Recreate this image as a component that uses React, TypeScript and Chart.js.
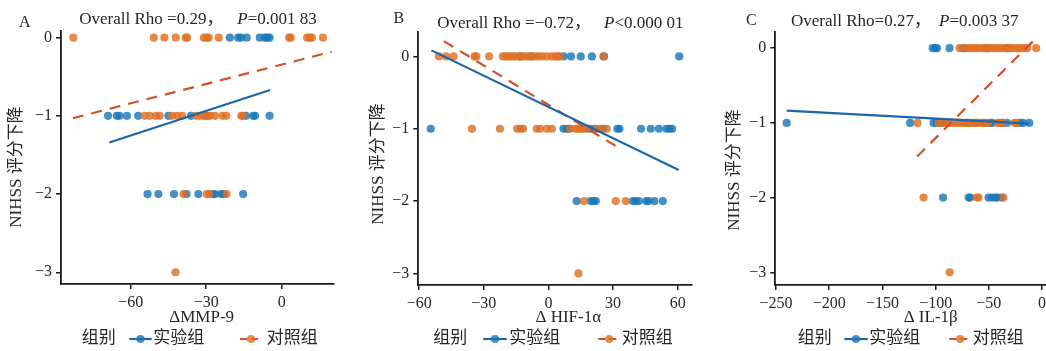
import React, { useEffect, useRef } from 'react';
import { Chart, registerables } from 'chart.js';

Chart.register(...registerables);

type Pt = [number, number];

// ---------- Panel A: ΔMMP-9 ----------
const mmp9Experimental: Pt[] = [
  [-20.6, 0], [-17.3, 0], [-16.2, 0], [-13.9, 0], [-8.7, 0], [-6.7, 0], [-5.8, 0], [-4.8, 0],
  [-69, -1], [-65.5, -1], [-64.5, -1], [-61.5, -1], [-57, -1], [-45, -1], [-36, -1], [-30, -1],
  [-14.2, -1], [-11.3, -1], [-10.6, -1], [-4.8, -1],
  [-53.3, -2], [-49, -2], [-42.8, -2], [-37.8, -2], [-33.1, -2], [-27.4, -2], [-26.5, -2],
  [-24, -2], [-23, -2], [-15.3, -2],
];
const mmp9Control: Pt[] = [
  [-82.8, 0], [-50.8, 0], [-46.6, 0], [-42.1, 0], [-38.1, 0], [-37.6, 0], [-30.9, 0], [-29.8, 0],
  [-29, 0], [-25, 0], [3, 0], [3.6, 0], [10.1, 0], [11.2, 0], [12, 0], [16.4, 0],
  [-54.5, -1], [-52.5, -1], [-50, -1], [-48.5, -1], [-43.5, -1], [-41.5, -1], [-39.5, -1],
  [-34, -1], [-32.5, -1], [-31, -1], [-29.5, -1], [-28.5, -1], [-26.5, -1], [-23.5, -1],
  [-22, -1], [-16, -1], [-15.5, -1],
  [-39, -2], [-29.8, -2], [-28.8, -2], [-21.9, -2],
  [-42.2, -3],
];
const mmp9ExperimentalFit: Pt[] = [[-68.5, -1.34], [-4.6, -0.67]];
const mmp9ControlFit: Pt[] = [[-83, -1.03], [19.9, -0.18]];
const mmp9XTicks = [-60, -30, 0];

// ---------- Panel B: ΔHIF-1α ----------
const hifExperimental: Pt[] = [
  [-13, 0], [-8, 0], [7, 0], [10.5, 0], [15, 0], [20.2, 0], [25.8, 0], [60.7, 0],
  [-54.6, -1], [7, -1], [8.5, -1], [9.5, -1], [19.2, -1], [21.5, -1], [25.4, -1], [32, -1],
  [33, -1], [43, -1], [47.5, -1], [51.3, -1], [54.8, -1], [56.2, -1], [57.4, -1],
  [13.1, -2], [19.6, -2], [20.8, -2], [22, -2], [39.2, -2], [40.5, -2], [42, -2], [45.4, -2],
  [46.5, -2], [49.2, -2], [53.1, -2],
];
const hifControl: Pt[] = [
  [-50.8, 0], [-47.5, 0], [-44, 0], [-34.3, 0], [-33.4, 0], [-27.5, 0], [-21.2, 0], [-20, 0],
  [-19.1, 0], [-17.8, 0], [-16.5, 0], [-15.3, 0], [-13.6, 0], [-12.2, 0], [-10.9, 0], [-9.4, 0],
  [-7.7, 0], [-6.3, 0], [-4.6, 0], [-2.9, 0], [-0.8, 0], [1.4, 0], [3.1, 0], [4.2, 0], [5.2, 0],
  [25.5, 0],
  [-35.5, -1], [-22.5, -1], [-14.5, -1], [-13, -1], [-11.8, -1], [-5.4, -1], [-3.8, -1],
  [-0.7, -1], [1.6, -1], [10, -1], [12.5, -1], [13.5, -1], [14.6, -1], [15.5, -1], [16.5, -1],
  [17.7, -1], [22.3, -1], [24, -1], [27, -1],
  [16.5, -2], [31.2, -2], [35.9, -2],
  [13.9, -3],
];
const hifExperimentalFit: Pt[] = [[-54.3, 0.083], [60.5, -1.572]];
const hifControlFit: Pt[] = [[-48.5, 0.21], [33, -1.27]];
const hifXTicks = [-60, -30, 0, 30, 60];

// ---------- Panel C: ΔIL-1β ----------
const ilExperimental: Pt[] = [
  [-102.8, 0], [-100.5, 0], [-98.8, 0], [-86.9, 0], [-74.4, 0], [-52, 0], [-33, 0],
  [-240, -1], [-124, -1], [-102, -1], [-99, -1], [-95, -1], [-89, -1], [-70, -1], [-62, -1],
  [-55, -1], [-49, -1], [-47, -1], [-38, -1], [-33, -1], [-21, -1], [-18, -1], [-12, -1],
  [-93, -2], [-69, -2], [-67.5, -2], [-50.3, -2], [-47.2, -2], [-44.1, -2], [-42, -2], [-38, -2],
];
const ilControl: Pt[] = [
  [-77.5, 0], [-72.3, 0], [-70.1, 0], [-66.8, 0], [-64.2, 0], [-61.5, 0], [-58.9, 0], [-55.2, 0],
  [-52.6, 0], [-49.3, 0], [-46.1, 0], [-43.4, 0], [-40.2, 0], [-37.5, 0], [-34.1, 0], [-31.2, 0],
  [-28.6, 0], [-25.3, 0], [-22.1, 0], [-19.4, 0], [-16.2, 0], [-14, 0], [-5.5, 0],
  [-117, -1], [-97, -1], [-93.5, -1], [-90, -1], [-86.2, -1], [-83, -1], [-80.1, -1], [-77.4, -1],
  [-74, -1], [-71.3, -1], [-68.2, -1], [-65.5, -1], [-62.1, -1], [-59.3, -1], [-56, -1],
  [-53.4, -1], [-51, -1], [-42, -1], [-40.2, -1], [-37, -1], [-26, -1], [-24, -1],
  [-111.3, -2], [-61.3, -2], [-59.8, -2], [-36.3, -2],
  [-86.9, -3],
];
const ilExperimentalFit: Pt[] = [[-240, -0.835], [-12, -1.01]];
const ilControlFit: Pt[] = [[-117.5, -1.45], [-5.6, 0.134]];
const ilXTicks = [-250, -200, -150, -100, -50, 0];

// ---------- Shared ----------
const yTicks = [-3, -2, -1, 0];
const yAxisTitle = 'NIHSS 评分下降';
const legendTitle = '组别';
const groupNames = ['实验组', '对照组'];

const SERIF = '"Liberation Serif", "Noto Sans CJK SC", serif';
const TEXT = '#262626';
const AXIS = '#1a1a1a';
const BLUE_PT = 'rgba(24,120,184,0.82)';
const ORANGE_PT = 'rgba(224,112,34,0.82)';
const BLUE_LINE = '#1a67a8';
const RED_LINE = '#d1502b';
const PT_R = 4.1;

type PanelSpec = {
  left: number;
  width: number;
  area: { l: number; r: number; t: number; b: number };
  xRange: [number, number];
  yRange: [number, number];
  xTicks: number[];
  exp: Pt[];
  ctl: Pt[];
  expFit: Pt[];
  ctlFit: Pt[];
  letter: string;
  letterPos: [number, number];
  titlePre: string;
  titleP: string;
  titlePost: string;
  titleX: number;
  titlePX: number;
  titleY: number;
  yTitlePos: [number, number];
  xTitle: string;
  xTitlePos: [number, number];
  legendX: [number, number, number, number, number, number, number];
};

const panels: PanelSpec[] = [
  {
    left: 0, width: 350,
    area: { l: 61, r: 334, t: 31, b: 284 },
    xRange: [-87.7, 20.8], yRange: [-3.15, 0.085], xTicks: mmp9XTicks,
    exp: mmp9Experimental, ctl: mmp9Control, expFit: mmp9ExperimentalFit, ctlFit: mmp9ControlFit,
    letter: 'A', letterPos: [19, 26.5],
    titlePre: 'Overall Rho =0.29，', titleP: 'P', titlePost: '=0.001 83',
    titleX: 79.3, titlePX: 237.3, titleY: 24,
    yTitlePos: [17, 167], xTitle: 'ΔMMP-9', xTitlePos: [201.7, 318],
    legendX: [81.7, 129.3, 151.7, 153.3, 240, 262, 266.7],
  },
  {
    left: 350, width: 346,
    area: { l: 418.3, r: 692.6, t: 32, b: 285 },
    xRange: [-60.4, 66.6], yRange: [-3.16, 0.337], xTicks: hifXTicks,
    exp: hifExperimental, ctl: hifControl, expFit: hifExperimentalFit, ctlFit: hifControlFit,
    letter: 'B', letterPos: [393.5, 22.5],
    titlePre: 'Overall Rho =\u22120.72，', titleP: 'P', titlePost: '<0.000 01',
    titleX: 437.3, titlePX: 604, titleY: 27.5,
    yTitlePos: [378.3, 164], xTitle: 'Δ HIF-1α', xTitlePos: [568.3, 318],
    legendX: [433.3, 483.3, 506.7, 509.3, 598.3, 620, 621.7],
  },
  {
    left: 696, width: 370,
    area: { l: 775.3, r: 1049.5, t: 32, b: 285 },
    xRange: [-250.7, 7], yRange: [-3.17, 0.217], xTicks: ilXTicks,
    exp: ilExperimental, ctl: ilControl, expFit: ilExperimentalFit, ctlFit: ilControlFit,
    letter: 'C', letterPos: [746, 24.5],
    titlePre: 'Overall Rho=0.27，', titleP: 'P', titlePost: '=0.003 37',
    titleX: 791, titlePX: 939, titleY: 25.5,
    yTitlePos: [734.3, 170], xTitle: 'Δ IL-1β', xTitlePos: [930.7, 318],
    legendX: [797.7, 844.3, 867.7, 869.3, 949.3, 971, 972.7],
  },
];

const H = 351;
const X_AXIS_H = 40;

const fmt = (v: number) => (v < 0 ? '\u2212' + Math.abs(v) : String(v));
const toXY = (pts: Pt[]) => pts.map(([x, y]) => ({ x, y }));

function makeConfig(p: PanelSpec): any {
  const ox = p.left;
  const a = p.area;
  const decor = {
    id: 'decor',
    afterDraw(chart: any) {
      const ctx = chart.ctx as CanvasRenderingContext2D;
      ctx.save();
      ctx.fillStyle = TEXT;
      ctx.textBaseline = 'alphabetic';
      ctx.textAlign = 'left';
      // panel letter
      ctx.font = `16px ${SERIF}`;
      ctx.fillText(p.letter, p.letterPos[0] - ox, p.letterPos[1]);
      // title
      ctx.font = `17px ${SERIF}`;
      ctx.fillText(p.titlePre, p.titleX - ox, p.titleY);
      ctx.font = `italic 17px ${SERIF}`;
      ctx.fillText(p.titleP, p.titlePX - ox, p.titleY);
      const pw = ctx.measureText(p.titleP).width;
      ctx.font = `17px ${SERIF}`;
      ctx.fillText(p.titlePost, p.titlePX - ox + pw, p.titleY);
      // y axis title
      ctx.save();
      ctx.translate(p.yTitlePos[0] - ox, p.yTitlePos[1]);
      ctx.rotate(-Math.PI / 2);
      ctx.textAlign = 'center';
      ctx.textBaseline = 'middle';
      ctx.fillText(yAxisTitle, 0, 0);
      ctx.restore();
      // x axis title
      ctx.textAlign = 'center';
      ctx.textBaseline = 'middle';
      ctx.fillText(p.xTitle, p.xTitlePos[0] - ox, p.xTitlePos[1]);
      // legend
      const ly = 339;
      const L = p.legendX;
      ctx.textAlign = 'left';
      ctx.font = `17px ${SERIF}`;
      ctx.fillText(legendTitle, L[0] - ox, ly);
      ctx.fillText(groupNames[0], L[3] - ox, ly);
      ctx.fillText(groupNames[1], L[6] - ox, ly);
      // blue key
      ctx.lineWidth = 2.2;
      ctx.strokeStyle = BLUE_LINE;
      ctx.setLineDash([]);
      ctx.beginPath();
      ctx.moveTo(L[1] - ox, ly);
      ctx.lineTo(L[2] - ox, ly);
      ctx.stroke();
      ctx.fillStyle = BLUE_PT;
      ctx.beginPath();
      ctx.arc((L[1] + L[2]) / 2 - ox, ly, PT_R, 0, Math.PI * 2);
      ctx.fill();
      // orange key
      ctx.strokeStyle = RED_LINE;
      ctx.setLineDash([7, 4]);
      ctx.beginPath();
      ctx.moveTo(L[4] - ox, ly);
      ctx.lineTo(L[5] - ox, ly);
      ctx.stroke();
      ctx.setLineDash([]);
      ctx.fillStyle = ORANGE_PT;
      ctx.beginPath();
      ctx.arc((L[4] + L[5]) / 2 - ox, ly, PT_R, 0, Math.PI * 2);
      ctx.fill();
      ctx.restore();
    },
  };

  const axisCommon = {
    border: { display: true, color: AXIS, width: 1.8 },
    grid: { display: true, drawOnChartArea: false, drawTicks: true, tickLength: 5, color: AXIS, lineWidth: 1.5 },
  };

  return {
    type: 'scatter',
    data: {
      datasets: [
        {
          type: 'line', label: 'expFit', data: toXY(p.expFit), borderColor: BLUE_LINE, borderWidth: 2.2,
          pointRadius: 0, fill: false, order: 0,
        },
        {
          type: 'line', label: 'ctlFit', data: toXY(p.ctlFit), borderColor: RED_LINE, borderWidth: 2.2,
          borderDash: [11, 8], pointRadius: 0, fill: false, order: 0,
        },
        {
          label: groupNames[1], data: toXY(p.ctl), backgroundColor: ORANGE_PT, borderWidth: 0,
          pointRadius: PT_R, order: 1,
        },
        {
          label: groupNames[0], data: toXY(p.exp), backgroundColor: BLUE_PT, borderWidth: 0,
          pointRadius: PT_R, order: 2,
        },
      ],
    },
    options: {
      responsive: false,
      animation: false,
      events: [],
      layout: {
        padding: {
          left: 0,
          top: a.t,
          right: p.width - (a.r - ox),
          bottom: H - a.b - X_AXIS_H,
        },
      },
      plugins: { legend: { display: false }, tooltip: { enabled: false }, title: { display: false } },
      scales: {
        x: {
          type: 'linear',
          min: p.xRange[0],
          max: p.xRange[1],
          ...axisCommon,
          ticks: { color: TEXT, font: { family: SERIF, size: 16 }, padding: 4, callback: (v: number) => fmt(v) },
          afterBuildTicks: (s: any) => { s.ticks = p.xTicks.map((v) => ({ value: v })); },
          afterFit: (s: any) => { s.height = X_AXIS_H; },
        },
        y: {
          type: 'linear',
          min: p.yRange[0],
          max: p.yRange[1],
          ...axisCommon,
          ticks: { color: TEXT, font: { family: SERIF, size: 16 }, padding: 4, callback: (v: number) => fmt(v) },
          afterBuildTicks: (s: any) => { s.ticks = yTicks.map((v) => ({ value: v })); },
          afterFit: (s: any) => { s.width = a.l - ox; },
        },
      },
    },
    plugins: [decor],
  };
}

function Panel({ spec }: { spec: PanelSpec }) {
  const ref = useRef<HTMLCanvasElement>(null);
  useEffect(() => {
    const chart = new Chart(ref.current as HTMLCanvasElement, makeConfig(spec));
    return () => chart.destroy();
  }, [spec]);
  return (
    <canvas
      ref={ref}
      width={spec.width}
      height={H}
      style={{ position: 'absolute', left: spec.left, top: 0, width: spec.width, height: H }}
    />
  );
}

export default function App() {
  return (
    <div
      style={{
        position: 'fixed', left: 0, top: 0, width: 1046, height: 351, overflow: 'hidden', background: '#fff',
      }}
    >
      {panels.map((p) => (
        <Panel key={p.letter} spec={p} />
      ))}
    </div>
  );
}
